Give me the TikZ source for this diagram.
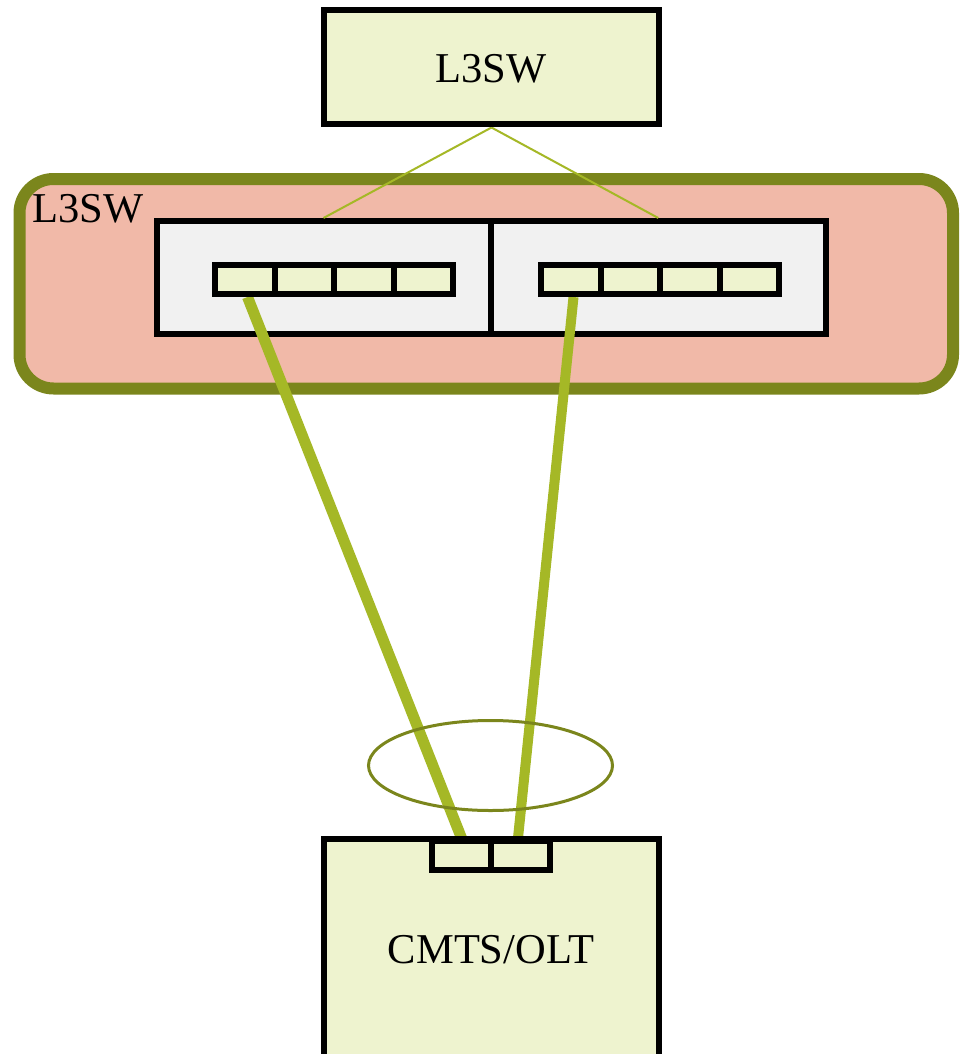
\documentclass[tikz,border=0pt]{standalone}
\usepackage{fontspec}
\setmainfont{Liberation Serif}
\usetikzlibrary{shapes.geometric,calc}

\definecolor{boxfill}{HTML}{EEF3CF}
\definecolor{chassisfill}{HTML}{F1B9A8}
\definecolor{olive}{HTML}{7B861C}
\definecolor{cable}{HTML}{A5B826}
\definecolor{cardfill}{HTML}{F1F1F1}

\pgfdeclarelayer{back}
\pgfdeclarelayer{links}
\pgfsetlayers{back,links,main}

\tikzset{
  devbox/.style={draw=black, line width=6pt, fill=boxfill, rectangle, inner sep=0pt},
  card/.style={draw=black, line width=6pt, fill=cardfill, rectangle, inner sep=0pt,
    minimum height=113pt},
  port/.style={draw=black, line width=6pt, fill=boxfill, rectangle, inner sep=0pt,
    minimum width=59.5pt, minimum height=29pt},
  chassis/.style={draw=olive, line width=12pt, fill=chassisfill, rectangle,
    rounded corners=34pt, inner sep=0pt},
  uplink/.style={draw=cable, line width=2pt},
  trunk/.style={draw=cable, line width=11pt, line cap=butt},
  lag/.style={draw=olive, line width=3pt, ellipse, inner sep=0pt},
  lbl/.style={font=\fontsize{42.5}{50}\selectfont, inner sep=0pt, text=black},
}

\begin{document}
\begin{tikzpicture}[x=1pt, y=-1pt]
  \useasboundingbox (0,0) rectangle (959,1054);
  \clip (0,0) rectangle (959,1054);

  \begin{pgfonlayer}{back}
    \fill[white] (0,0) rectangle (959,1054);
    % chassis switch with two line cards
    \node[chassis, minimum width=933.5pt, minimum height=209.5pt] (sw) at (486.25,283.75) {};
    \node[card, minimum width=334pt] (lcard) at (323.5,277.5) {};
    \node[card, minimum width=335.5pt] (rcard) at (658.25,277.5) {};
  \end{pgfonlayer}

  % upstream switch
  \node[devbox, minimum width=335pt, minimum height=114pt] (core) at (491.5,67.5) {};
  \node[lbl, anchor=base] (coretext) at (491,83) {L3SW};
  \node[lbl, anchor=base west] (swtext) at (32,222) {L3SW};

  % ports on the line cards
  \foreach \i/\x in {1/244.75, 2/304.25, 3/363.75, 4/423.25}
    \node[port] (lport\i) at (\x,279.5) {};
  \foreach \i/\x in {1/570.75, 2/630.25, 3/689.75, 4/749.25}
    \node[port] (rport\i) at (\x,279.5) {};

  % CMTS/OLT box and its two ports
  \node[devbox, minimum width=335pt, minimum height=221pt] (cmts) at (491.5,949) {};
  \node[port, minimum width=59pt] (cport1) at (461.5,855.5) {};
  \node[port, minimum width=59pt] (cport2) at (520.5,855.5) {};
  \node[lbl, anchor=base] (cmtstext) at (491,963) {CMTS/OLT};

  \begin{pgfonlayer}{links}
    % uplinks from the upstream switch to both cards
    \draw[uplink] (core.south) -- (lcard.north);
    \draw[uplink] (core.south) -- (rcard.north);
    % trunk links between the line cards and CMTS/OLT
    \draw[trunk] ($(lport1.south)+(2.75,0)$) -- (cport1.north);
    \draw[trunk, line width=10pt] ($(rport1.south)+(2.75,0)$) -- ($(cport2.north)+(-2.5,0)$);
  \end{pgfonlayer}

  % link aggregation marker
  \node[lag, minimum width=244pt, minimum height=90pt] (bundle) at (490.5,765.5) {};
\end{tikzpicture}
\end{document}
